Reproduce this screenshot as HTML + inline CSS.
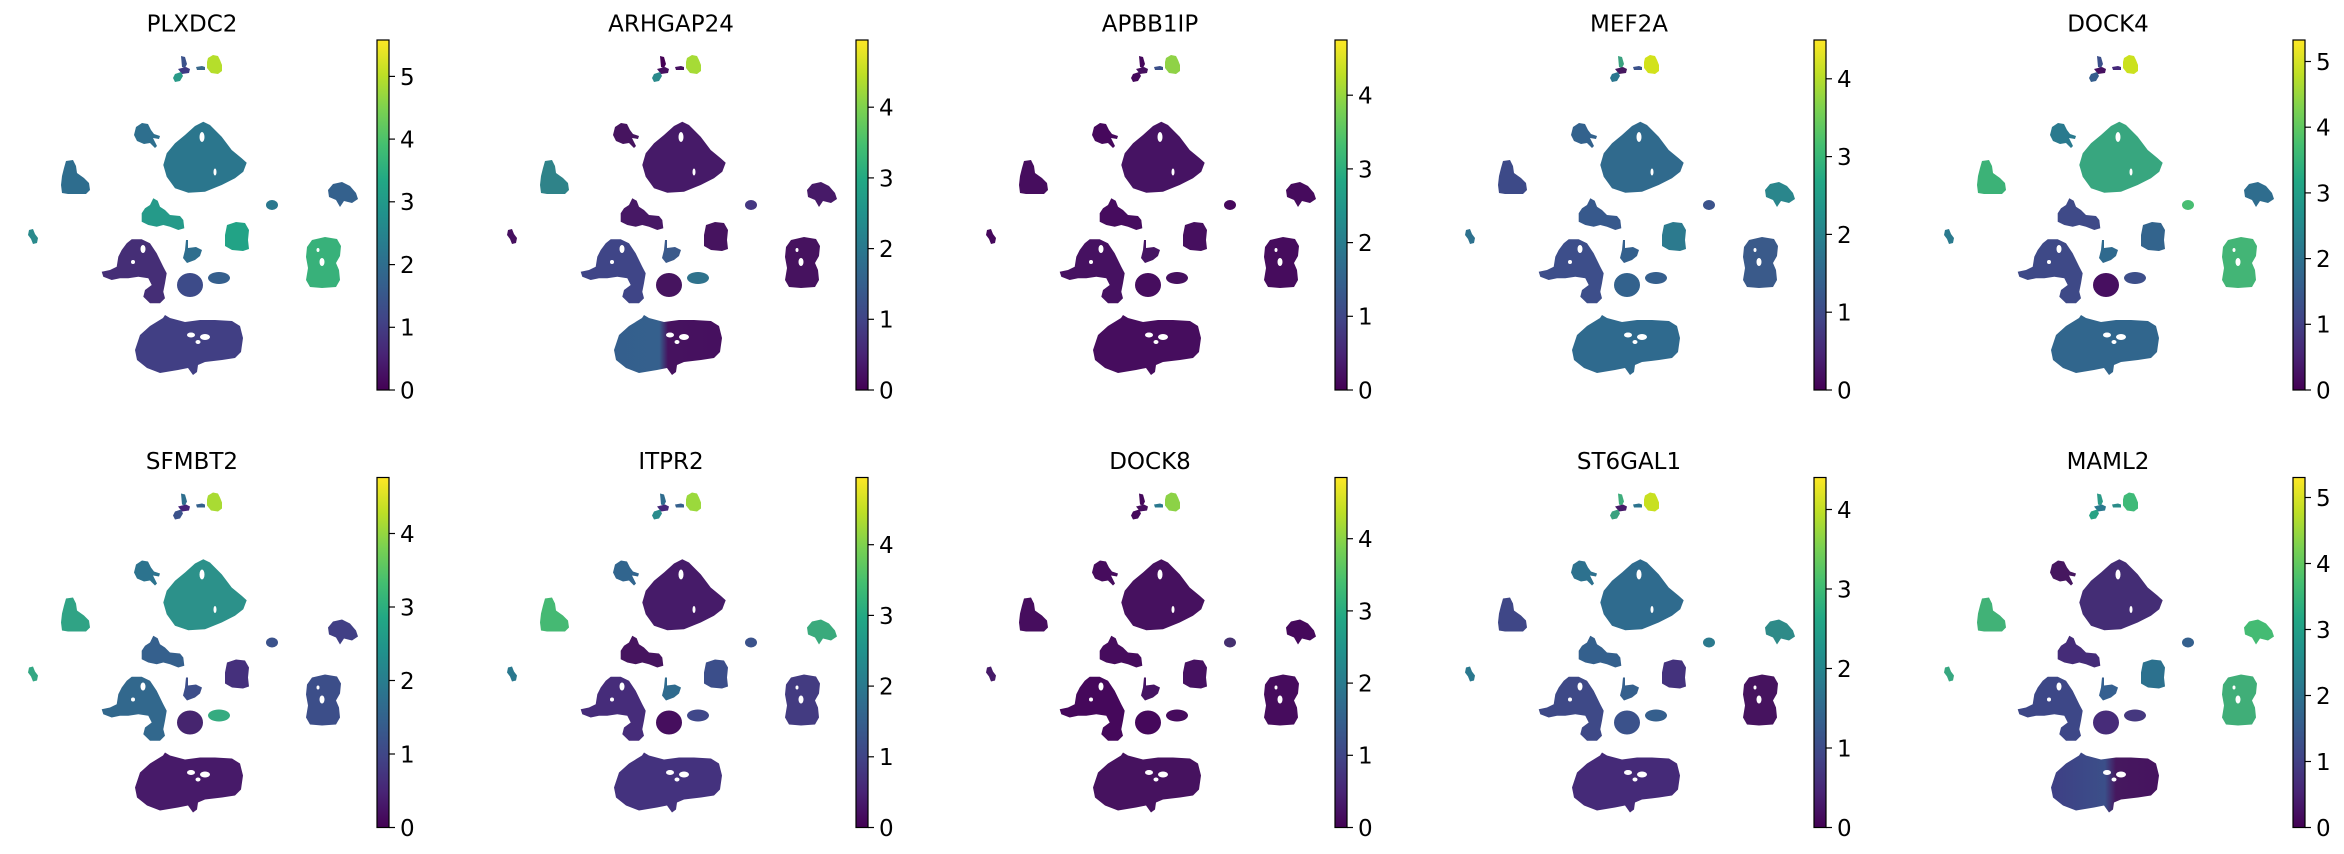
<!DOCTYPE html>
<html><head><meta charset="utf-8">
<style>
html,body{margin:0;padding:0;background:#fff;}
svg{display:block;}
text{font-family:"DejaVu Sans","Liberation Sans",sans-serif;fill:#000;}
.t{font-size:23px;text-anchor:middle;}
.k{font-size:23px;}
</style></head>
<body>
<svg width="2344" height="854" viewBox="0 0 2344 854" xmlns="http://www.w3.org/2000/svg">
<defs>
<linearGradient id="vir" x1="0" y1="1" x2="0" y2="0">
<stop offset="0" stop-color="#440154"/><stop offset="0.1" stop-color="#482475"/>
<stop offset="0.2" stop-color="#414487"/><stop offset="0.3" stop-color="#355f8d"/>
<stop offset="0.4" stop-color="#2a788e"/><stop offset="0.5" stop-color="#21918c"/>
<stop offset="0.6" stop-color="#22a884"/><stop offset="0.7" stop-color="#44bf70"/>
<stop offset="0.8" stop-color="#7ad151"/><stop offset="0.9" stop-color="#bddf26"/>
<stop offset="1" stop-color="#fde725"/>
</linearGradient>
<linearGradient id="n2" x1="0" y1="0" x2="1" y2="0">
<stop offset="0" stop-color="#345f8d"/><stop offset="0.42" stop-color="#35608d"/><stop offset="0.5" stop-color="#46125f"/><stop offset="1" stop-color="#46105f"/>
</linearGradient>
<linearGradient id="n10" x1="0" y1="0" x2="1" y2="0">
<stop offset="0" stop-color="#3e3f85"/><stop offset="0.5" stop-color="#3b4f89"/><stop offset="0.6" stop-color="#46185f"/><stop offset="1" stop-color="#46135f"/>
</linearGradient>
<path id="T1" d="M181,56 L185,57 L187,64 L185,68 L182,67 Z"/>
<path id="T2" d="M178,69 L186,67 L190,69 L189,73 L182,74 Z"/>
<path id="T3" d="M175,74 L181,72 L183,76 L180,81 L175,82 L173,78 Z"/>
<path id="T4" d="M196,67 L202,66 L205,67 L205,70 L197,70 Z"/>
<path id="T5" d="M208,58 L213,55 L218,56 L220,60 L222,65 L222,71 L218,74 L211,73 L207,68 L207,62 Z"/>
<path id="A" d="M136,127 L142,123 L148,124 L151,130 L154,134 L160,136 L159,139 L153,138 L157,146 L155,148 L150,143 L144,144 L137,141 L134,135 Z"/>
<path id="B" d="M203.3,121.7 L210,125 L221.7,136.7 L231.7,150 L241.7,158.3 L246.7,162.7 L243.3,171.7 L235,178.3 L221.7,185 L205,191.7 L188.3,192.7 L175,188.3 L166.7,176.7 L163.3,165 L166.7,153.3 L175,143.3 L185,135 L195,126 Z"/>
<path id="C" d="M66,161 L73,160 L76,166 L77,173 L84,178 L89,183 L90,190 L86,194 L68,194 L62,193 L61,185 L62,176 L64,168 Z"/>
<path id="D" d="M153.3,198.3 L157.7,200.7 L160,206.7 L165,210 L170,215 L180,216 L183.3,220 L184.3,228.3 L178.3,230 L170,226.7 L163.3,225 L156.7,226.7 L148.3,225 L141.7,221.7 L141.7,213.3 L145,208.3 L150,205 Z"/>
<path id="E" d="M29,230 L33,229 L35,234 L38,238 L37,243 L33,244 L31,239 L28,235 Z"/>
<path id="F" d="M328,190 L333,184 L342,182 L350,186 L356,193 L358,199 L352,203 L344,201 L340,207 L336,200 L329,197 Z"/>
<ellipse id="G" cx="272" cy="205" rx="6" ry="5"/>
<path id="H" d="M227,225 L236,222 L245,223 L249,230 L248,240 L249,249 L243,251 L232,250 L225,246 L225,235 Z"/>
<path id="I" d="M312,240 L325,237 L337,239 L341,246 L340,256 L336,263 L339,270 L340,280 L336,287 L322,288 L310,287 L306,280 L308,268 L306,257 L307,247 Z"/>
<path id="J" d="M131.7,239.3 L141.7,239.3 L150,243.3 L156.7,253.3 L160,260 L163.3,266.7 L166.7,273.3 L165,283.3 L163.3,291.7 L165,298.3 L160,303.3 L150,303.3 L143.3,296.7 L145,290 L151.7,285 L148.3,278.3 L138.3,276.7 L128.3,278.3 L120,278.3 L111.7,280 L103.3,276.7 L101.7,271.7 L110,270 L116.7,266.7 L118.3,256.7 L121.7,250 L126.7,243.3 Z"/>
<ellipse id="K" cx="190" cy="285" rx="13" ry="12"/>
<ellipse id="L" cx="219" cy="278" rx="11" ry="6"/>
<path id="M" d="M186,240 L188,240 L188,248 L196,247 L202,250 L200,256 L195,260 L187,263 L183,258 L185,250 Z"/>
<path id="N" d="M135,350 L140,335 L150,326 L163,318 L165,315 L170,318 L185,322 L200,320 L215,320 L232,321 L240,326 L243,338 L241,352 L235,358 L222,360 L205,362 L198,365 L197,372 L193,375 L188,368 L178,370 L160,373 L147,368 L137,360 Z"/>
<g id="holes" fill="#fff">
<ellipse cx="202" cy="137" rx="2.5" ry="5"/><ellipse cx="215" cy="172" rx="1.5" ry="3.5"/>
<ellipse cx="191" cy="335" rx="4" ry="2.5"/><ellipse cx="205" cy="337" rx="5" ry="3"/><ellipse cx="198" cy="342" rx="2.5" ry="2"/>
<ellipse cx="143" cy="249" rx="2.5" ry="4"/><ellipse cx="133" cy="262" rx="2" ry="2"/>
<ellipse cx="322" cy="262" rx="2.5" ry="4"/><ellipse cx="318" cy="250" rx="1.5" ry="2"/>
</g>
<g id="cbar">
<rect x="377" y="40" width="12" height="350" fill="url(#vir)" stroke="#000" stroke-width="1.2"/>
</g>
</defs>

<!-- Panel 1 PLXDC2 -->
<g transform="translate(0,0)">
<text class="t" x="192" y="31.5">PLXDC2</text>
<use href="#T1" fill="#3b528b"/><use href="#T2" fill="#3e3a84"/><use href="#T3" fill="#2a9a88"/><use href="#T4" fill="#3b6a8c"/><use href="#T5" fill="#b5de2b"/>
<use href="#A" fill="#2e6f8e"/><use href="#B" fill="#2b768d"/><use href="#C" fill="#2e6d8e"/><use href="#D" fill="#259a89"/><use href="#E" fill="#2a8a8c"/>
<use href="#F" fill="#34618d"/><use href="#G" fill="#2a788e"/><use href="#H" fill="#22a386"/><use href="#I" fill="#38b17a"/><use href="#J" fill="#452e76"/>
<use href="#K" fill="#3d4b89"/><use href="#L" fill="#355f8d"/><use href="#M" fill="#2e6e8e"/><use href="#N" fill="#413f84"/>
<use href="#holes"/><use href="#cbar"/>
<g stroke="#000" stroke-width="1.2"><line x1="389" y1="390" x2="395" y2="390"/><line x1="389" y1="327.3" x2="395" y2="327.3"/><line x1="389" y1="264.6" x2="395" y2="264.6"/><line x1="389" y1="201.8" x2="395" y2="201.8"/><line x1="389" y1="139.1" x2="395" y2="139.1"/><line x1="389" y1="76.4" x2="395" y2="76.4"/></g>
<text class="k" x="400" y="398.4">0</text><text class="k" x="400" y="335.7">1</text><text class="k" x="400" y="273">2</text><text class="k" x="400" y="210.2">3</text><text class="k" x="400" y="147.5">4</text><text class="k" x="400" y="84.8">5</text>
</g>

<!-- Panel 2 ARHGAP24 -->
<g transform="translate(479,0)">
<text class="t" x="192" y="31.5">ARHGAP24</text>
<use href="#T1" fill="#440154"/><use href="#T2" fill="#46105f"/><use href="#T3" fill="#2a8a8c"/><use href="#T4" fill="#46105f"/><use href="#T5" fill="#a6db36"/>
<use href="#A" fill="#46145f"/><use href="#B" fill="#461a68"/><use href="#C" fill="#2f8389"/><use href="#D" fill="#471865"/><use href="#E" fill="#46105f"/>
<use href="#F" fill="#471a68"/><use href="#G" fill="#453781"/><use href="#H" fill="#46135f"/><use href="#I" fill="#46125f"/><use href="#J" fill="#3f4587"/>
<use href="#K" fill="#46145f"/><use href="#L" fill="#2f728c"/><use href="#M" fill="#3b5a8b"/><use href="#N" fill="url(#n2)"/>
<use href="#holes"/><use href="#cbar"/>
<g stroke="#000" stroke-width="1.2"><line x1="389" y1="390" x2="395" y2="390"/><line x1="389" y1="319.3" x2="395" y2="319.3"/><line x1="389" y1="248.6" x2="395" y2="248.6"/><line x1="389" y1="177.9" x2="395" y2="177.9"/><line x1="389" y1="107.2" x2="395" y2="107.2"/></g>
<text class="k" x="400" y="398.4">0</text><text class="k" x="400" y="327.7">1</text><text class="k" x="400" y="257">2</text><text class="k" x="400" y="186.3">3</text><text class="k" x="400" y="115.6">4</text>
</g>

<!-- Panel 3 APBB1IP -->
<g transform="translate(958,0)">
<text class="t" x="192" y="31.5">APBB1IP</text>
<use href="#T1" fill="#45085b"/><use href="#T2" fill="#46105f"/><use href="#T3" fill="#45085b"/><use href="#T4" fill="#3b4f89"/><use href="#T5" fill="#8fd246"/>
<use href="#A" fill="#46085c"/><use href="#B" fill="#461363"/><use href="#C" fill="#460d5e"/><use href="#D" fill="#460c5e"/><use href="#E" fill="#45085b"/>
<use href="#F" fill="#460b5d"/><use href="#G" fill="#46085c"/><use href="#H" fill="#460f5f"/><use href="#I" fill="#460c5d"/><use href="#J" fill="#461161"/>
<use href="#K" fill="#460d5e"/><use href="#L" fill="#46105f"/><use href="#M" fill="#461563"/><use href="#N" fill="#460d5e"/>
<use href="#holes"/><use href="#cbar"/>
<g stroke="#000" stroke-width="1.2"><line x1="389" y1="390" x2="395" y2="390"/><line x1="389" y1="316.3" x2="395" y2="316.3"/><line x1="389" y1="242.6" x2="395" y2="242.6"/><line x1="389" y1="168.9" x2="395" y2="168.9"/><line x1="389" y1="95.2" x2="395" y2="95.2"/></g>
<text class="k" x="400" y="398.4">0</text><text class="k" x="400" y="324.7">1</text><text class="k" x="400" y="251">2</text><text class="k" x="400" y="177.3">3</text><text class="k" x="400" y="103.6">4</text>
</g>

<!-- Panel 4 MEF2A -->
<g transform="translate(1437,0)">
<text class="t" x="192" y="31.5">MEF2A</text>
<use href="#T1" fill="#3aa17f"/><use href="#T2" fill="#46185f"/><use href="#T3" fill="#2b768e"/><use href="#T4" fill="#3b528b"/><use href="#T5" fill="#d2e21b"/>
<use href="#A" fill="#33628d"/><use href="#B" fill="#306a8d"/><use href="#C" fill="#3d4a88"/><use href="#D" fill="#37598c"/><use href="#E" fill="#2d718e"/>
<use href="#F" fill="#2a868c"/><use href="#G" fill="#3b538b"/><use href="#H" fill="#2c7a8e"/><use href="#I" fill="#3a5a8a"/><use href="#J" fill="#3d4e8a"/>
<use href="#K" fill="#33628d"/><use href="#L" fill="#355f8d"/><use href="#M" fill="#34608d"/><use href="#N" fill="#2f6a8e"/>
<use href="#holes"/><use href="#cbar"/>
<g stroke="#000" stroke-width="1.2"><line x1="389" y1="390" x2="395" y2="390"/><line x1="389" y1="312.2" x2="395" y2="312.2"/><line x1="389" y1="234.4" x2="395" y2="234.4"/><line x1="389" y1="156.6" x2="395" y2="156.6"/><line x1="389" y1="78.8" x2="395" y2="78.8"/></g>
<text class="k" x="400" y="398.4">0</text><text class="k" x="400" y="320.6">1</text><text class="k" x="400" y="242.8">2</text><text class="k" x="400" y="165">3</text><text class="k" x="400" y="87.2">4</text>
</g>

<!-- Panel 5 DOCK4 -->
<g transform="translate(1916,0)">
<text class="t" x="192" y="31.5">DOCK4</text>
<use href="#T1" fill="#3c4f8a"/><use href="#T2" fill="#46105f"/><use href="#T3" fill="#355e8d"/><use href="#T4" fill="#45287a"/><use href="#T5" fill="#cbe11e"/>
<use href="#A" fill="#2a7a8e"/><use href="#B" fill="#38a67f"/><use href="#C" fill="#3cb277"/><use href="#D" fill="#3f4a88"/><use href="#E" fill="#2b7a8e"/>
<use href="#F" fill="#2f6d8e"/><use href="#G" fill="#48bd72"/><use href="#H" fill="#33648d"/><use href="#I" fill="#43b576"/><use href="#J" fill="#3e4987"/>
<use href="#K" fill="#470f60"/><use href="#L" fill="#3d4f8a"/><use href="#M" fill="#2f6a8e"/><use href="#N" fill="#31668d"/>
<use href="#holes"/><use href="#cbar"/>
<g stroke="#000" stroke-width="1.2"><line x1="389" y1="390" x2="395" y2="390"/><line x1="389" y1="324.3" x2="395" y2="324.3"/><line x1="389" y1="258.6" x2="395" y2="258.6"/><line x1="389" y1="192.9" x2="395" y2="192.9"/><line x1="389" y1="127.2" x2="395" y2="127.2"/><line x1="389" y1="61.5" x2="395" y2="61.5"/></g>
<text class="k" x="400" y="398.4">0</text><text class="k" x="400" y="332.7">1</text><text class="k" x="400" y="267">2</text><text class="k" x="400" y="201.3">3</text><text class="k" x="400" y="135.6">4</text><text class="k" x="400" y="69.9">5</text>
</g>

<!-- Panel 6 SFMBT2 -->
<g transform="translate(0,437.5)">
<text class="t" x="192" y="31.5">SFMBT2</text>
<use href="#T1" fill="#2e6e8e"/><use href="#T2" fill="#45247a"/><use href="#T3" fill="#3b528b"/><use href="#T4" fill="#34608d"/><use href="#T5" fill="#a9db33"/>
<use href="#A" fill="#2c738e"/><use href="#B" fill="#2c918a"/><use href="#C" fill="#30a385"/><use href="#D" fill="#35608d"/><use href="#E" fill="#33a783"/>
<use href="#F" fill="#413f85"/><use href="#G" fill="#3b528b"/><use href="#H" fill="#45307c"/><use href="#I" fill="#3c4e89"/><use href="#J" fill="#32688d"/>
<use href="#K" fill="#46256f"/><use href="#L" fill="#35ab80"/><use href="#M" fill="#3d4e8a"/><use href="#N" fill="#471a69"/>
<use href="#holes"/><use href="#cbar"/>
<g stroke="#000" stroke-width="1.2"><line x1="389" y1="390" x2="395" y2="390"/><line x1="389" y1="316.5" x2="395" y2="316.5"/><line x1="389" y1="243" x2="395" y2="243"/><line x1="389" y1="169.5" x2="395" y2="169.5"/><line x1="389" y1="96" x2="395" y2="96"/></g>
<text class="k" x="400" y="398.4">0</text><text class="k" x="400" y="324.9">1</text><text class="k" x="400" y="251.4">2</text><text class="k" x="400" y="177.9">3</text><text class="k" x="400" y="104.4">4</text>
</g>

<!-- Panel 7 ITPR2 -->
<g transform="translate(479,437.5)">
<text class="t" x="192" y="31.5">ITPR2</text>
<use href="#T1" fill="#2f6c8e"/><use href="#T2" fill="#45287a"/><use href="#T3" fill="#2a8b8c"/><use href="#T4" fill="#35608d"/><use href="#T5" fill="#9bd93c"/>
<use href="#A" fill="#31658e"/><use href="#B" fill="#461b69"/><use href="#C" fill="#45b973"/><use href="#D" fill="#46145f"/><use href="#E" fill="#2a788e"/>
<use href="#F" fill="#3aaa7c"/><use href="#G" fill="#3b528b"/><use href="#H" fill="#3b4e8a"/><use href="#I" fill="#433b81"/><use href="#J" fill="#462c7a"/>
<use href="#K" fill="#460e5e"/><use href="#L" fill="#40488a"/><use href="#M" fill="#2f6b8e"/><use href="#N" fill="#44327e"/>
<use href="#holes"/><use href="#cbar"/>
<g stroke="#000" stroke-width="1.2"><line x1="389" y1="390" x2="395" y2="390"/><line x1="389" y1="319.3" x2="395" y2="319.3"/><line x1="389" y1="248.6" x2="395" y2="248.6"/><line x1="389" y1="177.9" x2="395" y2="177.9"/><line x1="389" y1="107.2" x2="395" y2="107.2"/></g>
<text class="k" x="400" y="398.4">0</text><text class="k" x="400" y="327.7">1</text><text class="k" x="400" y="257">2</text><text class="k" x="400" y="186.3">3</text><text class="k" x="400" y="115.6">4</text>
</g>

<!-- Panel 8 DOCK8 -->
<g transform="translate(958,437.5)">
<text class="t" x="192" y="31.5">DOCK8</text>
<use href="#T1" fill="#45085b"/><use href="#T2" fill="#460d5e"/><use href="#T3" fill="#45085b"/><use href="#T4" fill="#2a788e"/><use href="#T5" fill="#8cd246"/>
<use href="#A" fill="#460c5d"/><use href="#B" fill="#46115f"/><use href="#C" fill="#460d5e"/><use href="#D" fill="#460c5d"/><use href="#E" fill="#461a68"/>
<use href="#F" fill="#45085b"/><use href="#G" fill="#45306f"/><use href="#H" fill="#461161"/><use href="#I" fill="#460c5d"/><use href="#J" fill="#45085b"/>
<use href="#K" fill="#45085b"/><use href="#L" fill="#460b5d"/><use href="#M" fill="#461463"/><use href="#N" fill="#46125f"/>
<use href="#holes"/><use href="#cbar"/>
<g stroke="#000" stroke-width="1.2"><line x1="389" y1="390" x2="395" y2="390"/><line x1="389" y1="317.8" x2="395" y2="317.8"/><line x1="389" y1="245.6" x2="395" y2="245.6"/><line x1="389" y1="173.4" x2="395" y2="173.4"/><line x1="389" y1="101.2" x2="395" y2="101.2"/></g>
<text class="k" x="400" y="398.4">0</text><text class="k" x="400" y="326.2">1</text><text class="k" x="400" y="254">2</text><text class="k" x="400" y="181.8">3</text><text class="k" x="400" y="109.6">4</text>
</g>

<!-- Panel 9 ST6GAL1 -->
<g transform="translate(1437,437.5)">
<text class="t" x="192" y="31.5">ST6GAL1</text>
<use href="#T1" fill="#3fad7c"/><use href="#T2" fill="#461a68"/><use href="#T3" fill="#3aa17f"/><use href="#T4" fill="#2c738e"/><use href="#T5" fill="#c8e020"/>
<use href="#A" fill="#2d718e"/><use href="#B" fill="#2f6b8e"/><use href="#C" fill="#3f4787"/><use href="#D" fill="#34608d"/><use href="#E" fill="#2a788e"/>
<use href="#F" fill="#2e8a88"/><use href="#G" fill="#2c7a8e"/><use href="#H" fill="#44327d"/><use href="#I" fill="#46135f"/><use href="#J" fill="#3e4987"/>
<use href="#K" fill="#3b528b"/><use href="#L" fill="#355f8d"/><use href="#M" fill="#35608d"/><use href="#N" fill="#452a78"/>
<use href="#holes"/><use href="#cbar"/>
<g stroke="#000" stroke-width="1.2"><line x1="389" y1="390" x2="395" y2="390"/><line x1="389" y1="310.5" x2="395" y2="310.5"/><line x1="389" y1="231" x2="395" y2="231"/><line x1="389" y1="151.5" x2="395" y2="151.5"/><line x1="389" y1="72" x2="395" y2="72"/></g>
<text class="k" x="400" y="398.4">0</text><text class="k" x="400" y="318.9">1</text><text class="k" x="400" y="239.4">2</text><text class="k" x="400" y="159.9">3</text><text class="k" x="400" y="80.4">4</text>
</g>

<!-- Panel 10 MAML2 -->
<g transform="translate(1916,437.5)">
<text class="t" x="192" y="31.5">MAML2</text>
<use href="#T1" fill="#2c9a87"/><use href="#T2" fill="#2a788e"/><use href="#T3" fill="#28a284"/><use href="#T4" fill="#2b8c89"/><use href="#T5" fill="#3fba78"/>
<use href="#A" fill="#46175f"/><use href="#B" fill="#442d75"/><use href="#C" fill="#41b277"/><use href="#D" fill="#452c78"/><use href="#E" fill="#37a780"/>
<use href="#F" fill="#44bb73"/><use href="#G" fill="#35608d"/><use href="#H" fill="#2c718e"/><use href="#I" fill="#40ae78"/><use href="#J" fill="#3d4787"/>
<use href="#K" fill="#472c79"/><use href="#L" fill="#45387f"/><use href="#M" fill="#356090"/><use href="#N" fill="url(#n10)"/>
<use href="#holes"/><use href="#cbar"/>
<g stroke="#000" stroke-width="1.2"><line x1="389" y1="390" x2="395" y2="390"/><line x1="389" y1="324" x2="395" y2="324"/><line x1="389" y1="258" x2="395" y2="258"/><line x1="389" y1="192" x2="395" y2="192"/><line x1="389" y1="126" x2="395" y2="126"/><line x1="389" y1="60" x2="395" y2="60"/></g>
<text class="k" x="400" y="398.4">0</text><text class="k" x="400" y="332.4">1</text><text class="k" x="400" y="266.4">2</text><text class="k" x="400" y="200.4">3</text><text class="k" x="400" y="134.4">4</text><text class="k" x="400" y="68.4">5</text>
</g>
</svg>
</body></html>
